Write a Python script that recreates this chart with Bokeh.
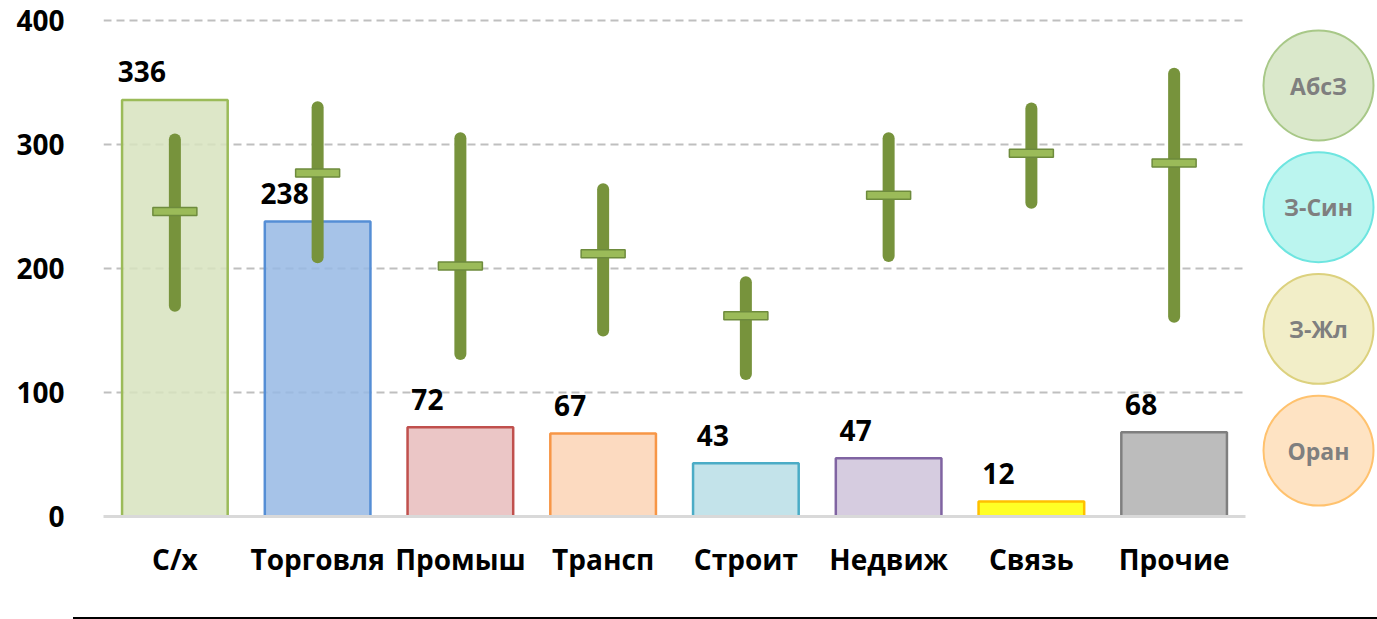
from bokeh.plotting import figure
from bokeh.models import Range1d, FactorRange, FixedTicker, Div
from bokeh.layouts import row, column
from bokeh.core.properties import value
from bokeh.embed import file_html
from bokeh.resources import INLINE

categories = ["С/х", "Торговля", "Промыш", "Трансп", "Строит", "Недвиж", "Связь", "Прочие"]
values = [336, 238, 72, 67, 43, 47, 12, 68]
whisker_low = [170, 209, 131, 150, 115, 210, 253, 161]
whisker_high = [304, 330, 305, 264, 189, 305, 329, 357]
whisker_mid = [246, 277, 202, 212, 162, 259, 293, 285]
y_ticks = [0, 100, 200, 300, 400]
legend_labels = ["АбсЗ", "З-Син", "З-Жл", "Оран"]

bar_fill = ["#D7E3BE", "#97B8E4", "#E7BCBC", "#FBD3B5", "#B8DEE6", "#CFC3DB", "#FFFF00", "#B0B0B0"]
bar_line = ["#9BBB59", "#558ED5", "#C0504D", "#F79646", "#4BACC6", "#8064A2", "#FFC000", "#7F7F7F"]
leg_fill = ["#DAE8CB", "#BBF5EF", "#F2EEC8", "#FEE3C3"]
leg_line = ["#A8C888", "#6EE5E0", "#DCD17E", "#FFC26E"]

FONT = "Open Sans"
TOP, BOTTOM = 8, 93          # panel sizes above/below the plotting frame
H = 609                       # figure height
FRAME_BOTTOM = H - BOTTOM     # y of the zero line

p = figure(x_range=FactorRange(factors=categories, range_padding=0),
           y_range=Range1d(0, 409.7), width=1253, height=H,
           output_backend="svg", toolbar_location=None, title=None,
           min_border_left=103, min_border_right=8, min_border_top=TOP, min_border_bottom=BOTTOM)
p.outline_line_color = None
p.background_fill_color = "white"
p.border_fill_color = "white"

p.vbar(x=categories, top=values, width=0.74, fill_color=bar_fill, fill_alpha=0.85,
       line_color=bar_line, line_width=2.5)
p.segment(x0=categories, y0=whisker_low, x1=categories, y1=whisker_high,
          line_width=12, line_color="#77933C", line_cap="round")
p.rect(x=categories, y=whisker_mid, width=44, height=8, width_units="screen", height_units="screen",
       fill_color="#9BBB59", line_color="#6E8B3D", line_width=1.5)
p.text(x=categories, y=values, text=[str(v) for v in values], x_offset=-33, y_offset=-28,
       text_align="center", text_baseline="middle", text_font=value(FONT),
       text_font_style="bold", text_font_size="28px", text_color="black")

p.yaxis.ticker = FixedTicker(ticks=y_ticks)
p.yaxis.axis_line_color = None
p.yaxis.major_tick_line_color = None
p.yaxis.minor_tick_line_color = None
p.yaxis.major_label_standoff = 33
p.yaxis.major_label_text_font = FONT
p.yaxis.major_label_text_font_style = "bold"
p.yaxis.major_label_text_font_size = "28px"
p.yaxis.major_label_text_color = "black"

p.xaxis.axis_line_color = "#D9D9D9"
p.xaxis.axis_line_width = 3
p.xaxis.major_tick_line_color = None
p.xaxis.major_label_standoff = 17
p.xaxis.major_label_text_font = FONT
p.xaxis.major_label_text_font_style = "bold"
p.xaxis.major_label_text_font_size = "28px"
p.xaxis.major_label_text_color = "black"

p.xgrid.visible = False
p.ygrid.ticker = FixedTicker(ticks=y_ticks)
p.ygrid.grid_line_color = "#BFBFBF"
p.ygrid.grid_line_dash = "8 5"
p.ygrid.grid_line_width = 2

# legend-like circles (frame aligned with the main frame; data units = page pixels)
c = figure(width=124, height=H, x_range=Range1d(0, 124), y_range=Range1d(FRAME_BOTTOM, TOP),
           output_backend="svg", toolbar_location=None, title=None,
           x_axis_type=None, y_axis_type=None,
           min_border_left=0, min_border_right=0, min_border_top=TOP, min_border_bottom=BOTTOM)
c.outline_line_color = None
c.grid.visible = False
cx = [65] * len(legend_labels)
cy = [85 + i * 121.7 for i in range(len(legend_labels))]
c.scatter(x=cx, y=cy, size=110, marker="circle", fill_color=leg_fill, line_color=leg_line, line_width=2)
c.text(x=cx, y=cy, text=legend_labels, text_align="center", text_baseline="middle",
       text_font=value(FONT), text_font_style="bold", text_font_size="23px", text_color="#7F7F7F")

line_div = Div(text="", width=1304, height=10, margin=(0, 0, 0, 73),
               styles={"border-bottom": "2px solid #000", "box-sizing": "border-box"})

layout = column(row(p, c), line_div)
open("out.html", "w").write(file_html(layout, INLINE))
